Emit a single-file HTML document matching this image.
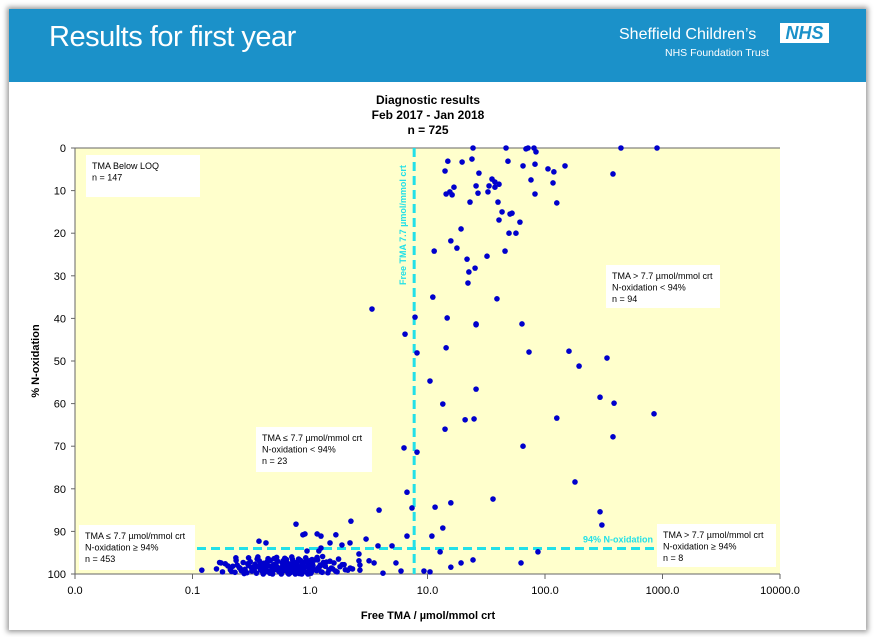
<!DOCTYPE html>
<html><head><meta charset="utf-8"><style>
body{margin:0;width:874px;height:637px;background:#fff;position:relative;overflow:hidden;font-family:"Liberation Sans",Arial,sans-serif}
#slide{position:absolute;left:9px;top:9px;width:857px;height:621px;background:#fff;box-shadow:0 0 5px 2px #999}
#hdr{position:absolute;left:0;top:0;width:857px;height:73px;background:#1b91c9}
</style></head><body>
<div id="slide">
<div id="hdr">
<div style="position:absolute;left:40px;top:12px;color:#fff;font-size:29px;letter-spacing:-0.5px">Results for first year</div>
<div style="position:absolute;left:610px;top:17px;color:#fff;font-size:16px">Sheffield Children’s</div>
<div style="position:absolute;left:771px;top:14px;width:49px;height:20px;background:#fff;color:#1b91c9;font-weight:bold;font-style:italic;font-size:18px;line-height:20px;text-align:center">NHS</div>
<div style="position:absolute;left:656px;top:38px;color:#fff;font-size:10.5px">NHS Foundation Trust</div>
</div>
</div>
<svg id="chart" width="874" height="637" style="position:absolute;left:0;top:0" font-family="Liberation Sans, Arial, sans-serif"></svg>
<script>
const xTicks=[0.01,0.1,1,10,100,1000,10000];
const xTickLabels=["0.0","0.1","1.0","10.0","100.0","1000.0","10000.0"];
const yTicks=[0,10,20,30,40,50,60,70,80,90,100];
const tmaThreshold=7.7;
const noxThreshold=94;
const sparseTma=[24.4,46.6,68.9,71.7,80.6,83.8,443,898,14.9,19.7,23.9,48.4,65.0,82.2,106,119,148,379,14.1,27.4,35.4,37.5,40.6,76.0,117,16.8,25.9,33.4,37.5,15.5,14.4,16.2,26.9,32.7,82.2,23.0,39.8,126,43.1,50.4,52.4,40.6,61.2,19.3,49.4,56.6,15.8,17.8,11.4,45.7,32.1,21.7,25.4,22.5,22.1,11.1,39.0,7.83,14.7,25.9,25.9,63.7,6.44,
3.37,8.14,14.4,73.1,160,337,195,10.5,25.9,13.5,294,387,847,20.9,24.9,126,14.1,379,6.31,8.14,65.0,180,6.69,3.87,7.38,11.6,15.8,36.1,294,305,13.5,10.9,6.69,3.0,3.79,4.99,12.8,87.1,5.39,24.4,19.3,62.5,15.8,9.33,10.5,5.95,4.18,
0.760,0.906,0.870,1.15,1.24,1.66,2.23,0.368,0.422,1.48,1.87,2.19,1.24,1.19,0.943,2.61,2.61,2.66,3.18,3.51,0.120,0.175,0.234,2.66];
const sparseNox=[0,0,0.2,0,0,0.9,0,0,3.1,3.3,2.6,3.1,4.2,3.8,4.9,5.6,4.2,6.1,5.4,5.9,7.3,8.0,8.5,7.5,8.2,9.2,8.9,8.9,9.2,10.3,10.8,11.0,10.6,10.3,10.8,12.7,12.7,12.9,15.0,15.5,15.3,16.9,17.4,19.0,20.0,20.0,21.8,23.5,24.2,24.2,25.4,26.1,28.2,29.1,31.7,35.0,35.4,39.7,39.9,41.3,41.5,41.3,43.7,
37.8,48.1,46.9,47.9,47.7,49.3,51.2,54.7,56.6,60.1,58.5,59.9,62.4,63.8,63.6,63.4,66.0,67.8,70.4,71.4,70.0,78.4,80.8,85.0,84.5,84.3,83.3,82.4,85.4,88.5,89.2,91.1,91.1,91.8,93.4,93.4,94.8,94.8,97.4,96.7,97.4,97.4,98.4,99.3,99.5,99.3,99.8,
88.3,90.6,90.8,90.6,91.1,90.8,87.6,92.3,92.7,92.7,93.2,92.7,93.9,94.6,94.6,95.3,96.9,97.9,96.9,97.4,99.1,97.4,96.2,99.1];
const bandTmaA=[0.16,0.18,0.19,0.21,0.22,0.23,0.24,0.25,0.26,0.27,0.28,0.29,0.30,0.31,0.32,0.33,0.34,0.35,0.36,0.37,0.38,0.39,0.40,0.41,0.42,0.43,0.44,0.45,0.46,0.47,0.48,0.49,0.50,0.52,0.53,0.55,0.56,0.58,0.60,0.62,0.63,0.65,0.67,0.69,0.70,0.72,0.74,0.76,0.78,0.80,0.82,0.84,0.86,0.88,0.90,0.93,0.95,0.98,1.00,1.03,1.06,1.10,1.14,1.18,1.22,1.27,1.32,1.38,1.45,1.52,1.60,1.70,1.80,1.95,2.1,2.3];
const bandNoxA=[98.8,99.5,97.6,99.0,98.2,99.6,97.9,98.5,99.2,97.3,98.9,99.7,98.0,97.1,99.3,98.6,97.7,99.8,98.3,96.9,99.1,98.4,97.5,99.6,98.7,97.2,99.4,98.1,96.8,99.7,98.5,97.8,99.0,98.2,97.0,99.5,98.8,97.4,99.2,98.0,96.6,99.8,98.4,97.6,99.1,98.7,97.3,99.6,98.2,96.9,99.3,98.6,97.8,99.0,98.3,97.1,99.7,98.9,97.5,99.4,98.1,96.7,99.2,98.5,97.9,99.6,98.0,97.2,99.0,98.6,97.4,99.5,98.3,97.8,99.1,98.8];
const bandTmaB=[0.17,0.20,0.215,0.235,0.255,0.275,0.295,0.315,0.335,0.355,0.375,0.395,0.415,0.435,0.455,0.475,0.495,0.51,0.54,0.57,0.59,0.61,0.64,0.66,0.68,0.71,0.73,0.75,0.77,0.79,0.81,0.83,0.85,0.87,0.89,0.91,0.94,0.97,0.99,1.02,1.05,1.08,1.12,1.16,1.20,1.25,1.30,1.35,1.42,1.48,1.56,1.65,1.75,1.88,2.0,2.2,0.30,0.36,0.44,0.52,0.61,0.70,0.80,0.92,1.04,1.15,1.28,0.40,0.48,0.57,0.66,0.75,0.85,0.96];
const bandNoxB=[97.3,98.1,99.4,96.8,98.7,99.9,97.6,98.4,99.1,96.5,97.9,99.5,98.2,97.0,99.8,98.9,96.4,97.7,99.3,98.5,96.9,99.0,97.4,98.8,99.7,96.6,98.0,99.2,97.5,98.6,99.9,96.8,97.9,99.4,98.3,97.1,99.6,98.1,96.9,99.8,97.7,98.9,99.1,96.7,98.4,99.5,97.3,98.2,99.7,97.0,98.8,99.3,96.5,97.8,99.0,98.6,96.2,96.0,96.4,96.1,96.3,96.0,96.5,96.2,96.6,96.1,95.9,100,100,100,100,100,100,100];
const NS="http://www.w3.org/2000/svg";
const svg=document.getElementById('chart');
const X0=75,DEC=117.5,Y0=148,YS=4.26;
function xPx(v){return X0+(Math.log10(v)+2)*DEC;}
function yPx(v){return Y0+v*YS;}
function mk(tag,attrs,parent){const e=document.createElementNS(NS,tag);for(const k in attrs)e.setAttribute(k,attrs[k]);(parent||svg).appendChild(e);return e;}
function txt(s,attrs){const t=mk('text',attrs);t.textContent=s;return t;}
let e;
e=mk('rect',{x:X0,y:Y0,width:xPx(10000)-X0,height:yPx(100)-Y0,fill:'#ffffcc'});


e=mk('line',{x1:X0,y1:Y0,x2:xPx(10000),y2:Y0,stroke:'#666','stroke-width':1});


e=mk('line',{x1:X0,y1:Y0,x2:X0,y2:yPx(100),stroke:'#666','stroke-width':1});


e=mk('line',{x1:X0,y1:yPx(100),x2:xPx(10000),y2:yPx(100),stroke:'#666','stroke-width':1});


xTicks.forEach((v,i)=>{
  const l=mk('line',{x1:xPx(v),y1:yPx(100),x2:xPx(v),y2:yPx(100)+5,stroke:'#666'});
  
  
  const t=txt(xTickLabels[i],{x:xPx(v),y:yPx(100)+20,'font-size':11,'text-anchor':'middle',fill:'#000'});
  
  
});
yTicks.forEach(v=>{
  const l=mk('line',{x1:X0-4,y1:yPx(v),x2:X0,y2:yPx(v),stroke:'#666'});
  
  
  const t=txt(String(v),{x:X0-9,y:yPx(v)+4,'font-size':11,'text-anchor':'end',fill:'#000'});
  
  
});
e=mk('line',{x1:xPx(tmaThreshold),y1:Y0,x2:xPx(tmaThreshold),y2:yPx(100),stroke:'#22e0e8','stroke-width':3,'stroke-dasharray':'9,5'});


e=mk('line',{x1:197,y1:yPx(noxThreshold),x2:657,y2:yPx(noxThreshold),stroke:'#22e0e8','stroke-width':3,'stroke-dasharray':'9,5'});


e=txt('Free TMA 7.7 µmol/mmol crt',{x:0,y:0,'font-size':9,'font-weight':'bold',fill:'#22e0e8',transform:'translate(406,285) rotate(-90)'});


e=txt('94% N-oxidation',{x:583,y:yPx(noxThreshold)-6,'font-size':9,'font-weight':'bold',fill:'#22e0e8'});


function box(name,x,y,w,h,lines){
  const r=mk('rect',{x:x,y:y,width:w,height:h,fill:'#fff'});
  
  
  lines.forEach((s,i)=>{const t=txt(s,{x:x+6,y:y+14+i*11.5,'font-size':9,fill:'#000'});
    
    });
}
function dot(v,n){
  const c=mk('circle',{cx:xPx(v),cy:yPx(n),r:2.8,fill:'#0000cc'});
  
  
}
for(let i=0;i<Math.min(bandTmaA.length,bandNoxA.length);i++)dot(bandTmaA[i],bandNoxA[i]);
for(let i=0;i<Math.min(bandTmaB.length,bandNoxB.length);i++)dot(bandTmaB[i],bandNoxB[i]);
for(let i=0;i<Math.min(sparseTma.length,sparseNox.length);i++)dot(sparseTma[i],sparseNox[i]);
box('box-below-loq',86,155,114,42,['TMA Below LOQ','n = 147']);
box('box-high-tma-low-nox',606,265,114,43,['TMA  > 7.7 µmol/mmol  crt','N-oxidation  < 94%','n = 94']);
box('box-low-tma-low-nox',256,427,116,45,['TMA  ≤ 7.7 µmol/mmol  crt','N-oxidation  < 94%','n = 23']);
box('box-low-tma-high-nox',79,525,116,45,['TMA  ≤ 7.7 µmol/mmol  crt','N-oxidation  ≥ 94%','n = 453']);
box('box-high-tma-high-nox',657,524,119,43,['TMA  > 7.7 µmol/mmol  crt','N-oxidation  ≥ 94%','n = 8']);
['Diagnostic results','Feb 2017 - Jan 2018','n = 725'].forEach((s,i)=>{
  const t=txt(s,{x:428,y:104+i*15,'font-size':12,'font-weight':'bold','text-anchor':'middle',fill:'#000'});
  
  
});
e=txt('Free TMA / µmol/mmol crt',{x:428,y:619,'font-size':11,'font-weight':'bold','text-anchor':'middle',fill:'#000'});


e=txt('% N-oxidation',{x:0,y:0,'font-size':11,'font-weight':'bold','text-anchor':'middle',fill:'#000',transform:'translate(39,361) rotate(-90)'});


</script>
</body></html>
